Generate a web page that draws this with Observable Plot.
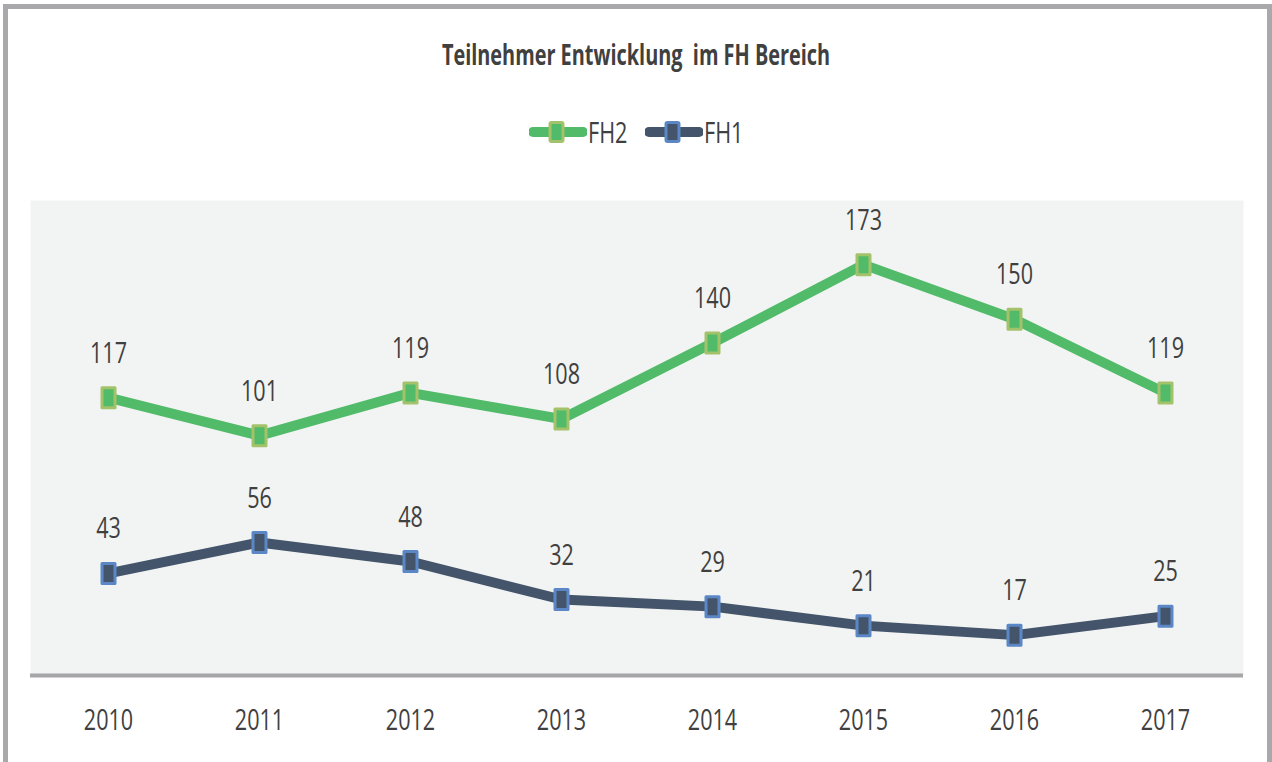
<!DOCTYPE html>
<html>
<head>
<meta charset="utf-8">
<script src="https://cdn.jsdelivr.net/npm/d3@7"></script>
<script src="https://cdn.jsdelivr.net/npm/@observablehq/plot@0.6"></script>
<style>
  html, body { margin: 0; padding: 0; background: #fff; }
  #wrap { position: relative; width: 1272px; height: 762px; overflow: hidden; background: #fff;
    font-family: "Open Sans", "Noto Sans", sans-serif; }
  #border { position: absolute; left: 3px; top: 4px; width: 1269px; height: 820px;
    border: 5px solid #a9a9ab; box-sizing: border-box; }
  #title { position: absolute; top: 40px; left: 0; width: 1272px; text-align: center;
    font-size: 28px; line-height: 28px; font-weight: bold; color: #404040; white-space: pre;
    transform: scaleX(0.71); transform-origin: 636px 0; }
  #legend { position: absolute; top: 117px; left: 0; width: 1272px; height: 30px;
    display: flex; justify-content: center; align-items: center; font-size: 30px; line-height: 30px; color: #404040; }
  .item { display: flex; align-items: center; margin: 0 9px; }
  .item svg { display: block; margin-right: 1px; }
  .item span { display: inline-block; transform: scaleX(0.72); transform-origin: 0 50%; }
  #chart { position: absolute; top: 170px; left: 0; }
</style>
</head>
<body>
<div id="wrap">
  <div id="border"></div>
  <div id="title"></div>
  <div id="legend"></div>
  <div id="chart"></div>
</div>
<script>
const years = ["2010", "2011", "2012", "2013", "2014", "2015", "2016", "2017"];
const fh2 = [117, 101, 119, 108, 140, 173, 150, 119];
const fh1 = [43, 56, 48, 32, 29, 21, 17, 25];
const seriesNames = ["FH2", "FH1"];
const titleText = "Teilnehmer Entwicklung  im FH Bereich";

const SX = 0.72; // horizontal squeeze to mimic the narrow reference typeface
const styles = {
  FH2: { line: "#52bb6a", edge: "#a3c26a" },
  FH1: { line: "#44546a", edge: "#5b87c6" }
};

const rows = [];
years.forEach((y, i) => {
  rows.push({ year: y, value: fh2[i], series: "FH2" });
  rows.push({ year: y, value: fh1[i], series: "FH1" });
});

document.getElementById("title").textContent = titleText;

// Legend
const legend = document.getElementById("legend");
seriesNames.forEach(name => {
  const s = styles[name];
  const item = document.createElement("div");
  item.className = "item";
  item.innerHTML = `<svg width="58" height="26" viewBox="0 0 58 26">
      <line x1="4" y1="13" x2="54" y2="13" stroke="${s.line}" stroke-width="10" stroke-linecap="round"/>
      <rect x="21" y="3.5" width="13" height="19" rx="1.5" fill="${s.line}" stroke="${s.edge}" stroke-width="3"/>
    </svg><span>${name}</span>`;
  legend.appendChild(item);
});
legend.querySelectorAll(".item span").forEach(sp => {
  const w = sp.getBoundingClientRect().width / SX; // natural width
  sp.style.marginRight = (-(1 - SX) * w) + "px";
});

const markerSymbol = {
  draw(context) {
    context.rect(-6.5, -10, 13, 20);
  }
};

const marks = [Plot.frame({ fill: "#f2f4f3", stroke: null })];
seriesNames.forEach(name => {
  const s = styles[name];
  const data = rows.filter(d => d.series === name);
  marks.push(
    Plot.line(data, { x: "year", y: "value", stroke: s.line, strokeWidth: 10, strokeLinejoin: "round", strokeLinecap: "butt" }),
    Plot.dot(data, { x: "year", y: "value", symbol: markerSymbol, r: 5, fill: s.line, stroke: s.edge, strokeWidth: 3, strokeLinejoin: "round" }),
    Plot.text(data, { x: "year", y: "value", text: d => String(d.value), dy: -35, lineAnchor: "bottom",
      fontSize: 30, fill: "#404040" })
  );
});
marks.push(Plot.ruleY([0], { stroke: "#a6a6a8", strokeWidth: 4 }));
marks.push(Plot.axisX({ tickSize: 0, tickPadding: 33, fontSize: 30, color: "#404040" }));

const chart = Plot.plot({
  width: 1272,
  height: 592,
  marginTop: 30,
  marginBottom: 87,
  marginLeft: 30,
  marginRight: 29,
  style: { fontFamily: '"Open Sans", "Noto Sans", sans-serif', background: "transparent", color: "#404040" },
  x: { type: "point", domain: years, padding: 0.5, label: null },
  y: { domain: [0, 200], axis: null },
  marks
});
// squeeze text horizontally around its own anchor
chart.querySelectorAll("text").forEach(t => {
  const tr = t.getAttribute("transform") || "";
  const x = t.getAttribute("x");
  if (x != null && !tr) {
    t.setAttribute("transform", `translate(${x},0) scale(${SX},1)`);
    t.setAttribute("x", 0);
  } else {
    t.setAttribute("transform", `${tr} scale(${SX},1)`);
  }
});
document.getElementById("chart").appendChild(chart);
</script>
</body>
</html>
